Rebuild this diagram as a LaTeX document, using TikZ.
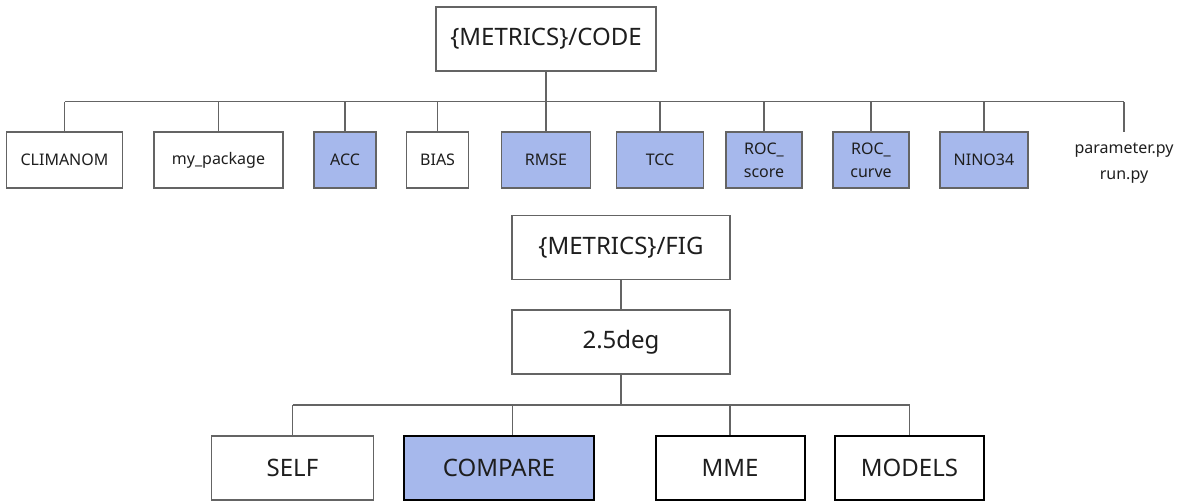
\documentclass[tikz,border=0pt]{standalone}
\usepackage{fontspec}
\setmainfont{Noto Sans}
\definecolor{dirblue}{RGB}{166,184,236}
\definecolor{linegray}{RGB}{100,100,100}
\definecolor{textdark}{RGB}{30,30,30}

\begin{document}
\begin{tikzpicture}[x=0.5pt, y=-0.5pt,
  dir/.style={draw=linegray, line width=0.6pt, fill=white, inner sep=0pt, align=center, text=textdark},
  metric/.style={dir, fill=dirblue},
  topdir/.style={dir, font=\fontsize{12}{14}\selectfont, minimum width=109pt, minimum height=32pt},
  leaf/.style={font=\fontsize{8}{11.5}\selectfont, minimum height=28pt},
  figdir/.style={dir, draw=black, line width=1pt, font=\fontsize{12}{14}\selectfont, minimum height=32pt},
  conn/.style={draw=linegray, line width=0.6pt}]
  \useasboundingbox (0,0) rectangle (1183,503);

  % Code tree
  \node[topdir, minimum width=110pt] (code) at (546,39) {\{METRICS\}/CODE};
  \coordinate (codebus) at (546,101.7);

  \node[dir, leaf, minimum width=58pt] (climanom) at (64.5,160) {CLIMANOM};
  \node[dir, leaf, minimum width=64.5pt] (mypkg) at (218.5,160) {my\_package};
  \node[metric, leaf, minimum width=31pt] (acc) at (345,160) {ACC};
  \node[dir, leaf, minimum width=31pt] (bias) at (437.6,160) {BIAS};
  \node[metric, leaf, minimum width=44.5pt] (rmse) at (546,160) {RMSE};
  \node[metric, leaf, minimum width=43.5pt] (tcc) at (660,160) {TCC};
  \node[metric, leaf, minimum width=38pt] (rocscore) at (764,160) {ROC\_\\score};
  \node[metric, leaf, minimum width=38pt] (roccurve) at (871,160) {ROC\_\\curve};
  \node[metric, leaf, minimum width=44pt] (nino) at (984,160) {NINO34};
  \node[leaf, align=center, text=textdark, inner sep=0pt, minimum height=31pt, font=\fontsize{8}{13}\selectfont] (scripts) at (1124,163) {parameter.py\\run.py};

  \draw[conn] (code.south) -- (codebus);
  \draw[conn] (climanom.north |- codebus) -- (scripts.north |- codebus);
  \foreach \n in {climanom,mypkg,acc,bias,rmse,tcc,rocscore,roccurve,nino,scripts}
    \draw[conn] (\n.north) -- (\n.north |- codebus);

  % Figure tree
  \node[topdir] (fig) at (621,247.5) {\{METRICS\}/FIG};
  \node[topdir] (deg) at (621,342) {2.5deg};
  \coordinate (figbus) at (621,405);

  \node[dir, font=\fontsize{12}{14}\selectfont, minimum height=32pt, minimum width=81pt] (self) at (292.5,468) {SELF};
  \node[figdir, fill=dirblue, minimum width=95pt] (compare) at (499,468) {COMPARE};
  \node[figdir, minimum width=74.5pt] (mme) at (730,468) {MME};
  \node[figdir, minimum width=74.5pt] (models) at (909.5,468) {MODELS};

  \draw[conn] (fig) -- (deg);
  \draw[conn] (deg.south) -- (figbus);
  \draw[conn] (self.north |- figbus) -- (models.north |- figbus);
  \draw[conn] (self.north) -- (self.north |- figbus);
  \draw[conn] ([xshift=6.8pt]compare.north) -- ([xshift=6.8pt]compare.north |- figbus);
  \draw[conn] (mme.north) -- (mme.north |- figbus);
  \draw[conn] (models.north) -- (models.north |- figbus);
\end{tikzpicture}
\end{document}
